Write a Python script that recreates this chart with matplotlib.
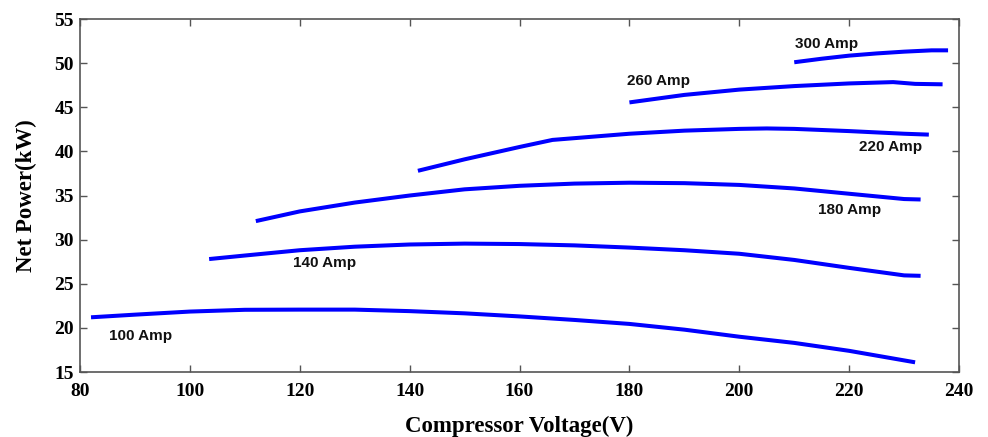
import numpy as np
import matplotlib
matplotlib.use("Agg")
import matplotlib.pyplot as plt

# compressor voltage (V) / net power (kW) per current level
v100 = [82, 90, 100, 110, 120, 130, 140, 150, 160, 170, 180, 190, 200, 210, 220, 232]
p100 = [21.2, 21.5, 21.85, 22.05, 22.07, 22.07, 21.9, 21.65, 21.3, 20.9, 20.45, 19.8, 19.0, 18.3, 17.4, 16.1]

v140 = [103.5, 110, 120, 130, 140, 150, 160, 170, 180, 190, 200, 210, 220, 230, 233]
p140 = [27.8, 28.2, 28.8, 29.2, 29.45, 29.55, 29.5, 29.35, 29.1, 28.8, 28.4, 27.7, 26.8, 25.95, 25.9]

v180 = [112, 120, 130, 140, 150, 160, 170, 180, 190, 200, 210, 220, 230, 233]
p180 = [32.1, 33.2, 34.2, 35.0, 35.7, 36.1, 36.35, 36.45, 36.4, 36.2, 35.8, 35.2, 34.6, 34.55]

v220 = [141.5, 150, 160, 166, 170, 180, 190, 200, 205, 210, 220, 230, 234.5]
p220 = [37.8, 39.1, 40.5, 41.3, 41.5, 42.0, 42.35, 42.55, 42.6, 42.55, 42.3, 42.0, 41.9]

v260 = [180, 190, 200, 210, 220, 228, 232, 237]
p260 = [45.55, 46.4, 47.0, 47.4, 47.7, 47.85, 47.65, 47.6]

v300 = [210, 215, 220, 225, 230, 235, 238]
p300 = [50.1, 50.5, 50.85, 51.1, 51.3, 51.45, 51.45]

labels = ["100 Amp", "140 Amp", "180 Amp", "220 Amp", "260 Amp", "300 Amp"]
label_pos = [(85.2, 19.1), (118.7, 27.3), (214.3, 33.4), (221.8, 40.5), (179.6, 48.0), (210.1, 52.2)]

fig = plt.figure(figsize=(9.88, 4.37), dpi=100)
ax = fig.add_axes([0.081, 0.1487, 0.8897, 0.8078])

for v, p in [(v100, p100), (v140, p140), (v180, p180), (v220, p220), (v260, p260), (v300, p300)]:
    ax.plot(v, p, color="#0000ff", lw=2.9, solid_capstyle="butt")

for txt, (x, y) in zip(labels, label_pos):
    ax.text(x, y, txt, fontsize=11, fontweight="bold", family="Liberation Sans",
            ha="left", va="center", color="#111111")

ax.set_xlim(80, 240)
ax.set_ylim(15, 55)
ax.set_xticks(np.arange(80, 241, 20))
ax.set_yticks(np.arange(15, 56, 5))
ax.tick_params(direction="in", top=True, right=True, length=5, color="#555555", width=1)
ax.tick_params(axis="x", pad=8)
ax.tick_params(axis="y", pad=4.5)
for lab in ax.get_xticklabels() + ax.get_yticklabels():
    lab.set_family("Liberation Serif")
    lab.set_fontweight("bold")
    lab.set_fontsize(14)
for s in ax.spines.values():
    s.set_color("#555555")
    s.set_linewidth(1.2)

ax.set_xlabel("Compressor Voltage(V)", family="Liberation Serif", fontweight="bold", fontsize=16.5, labelpad=11)
ax.set_ylabel("Net Power(kW)", family="Liberation Serif", fontweight="bold", fontsize=16.5, labelpad=12)

fig.savefig("out.png", dpi=100)
